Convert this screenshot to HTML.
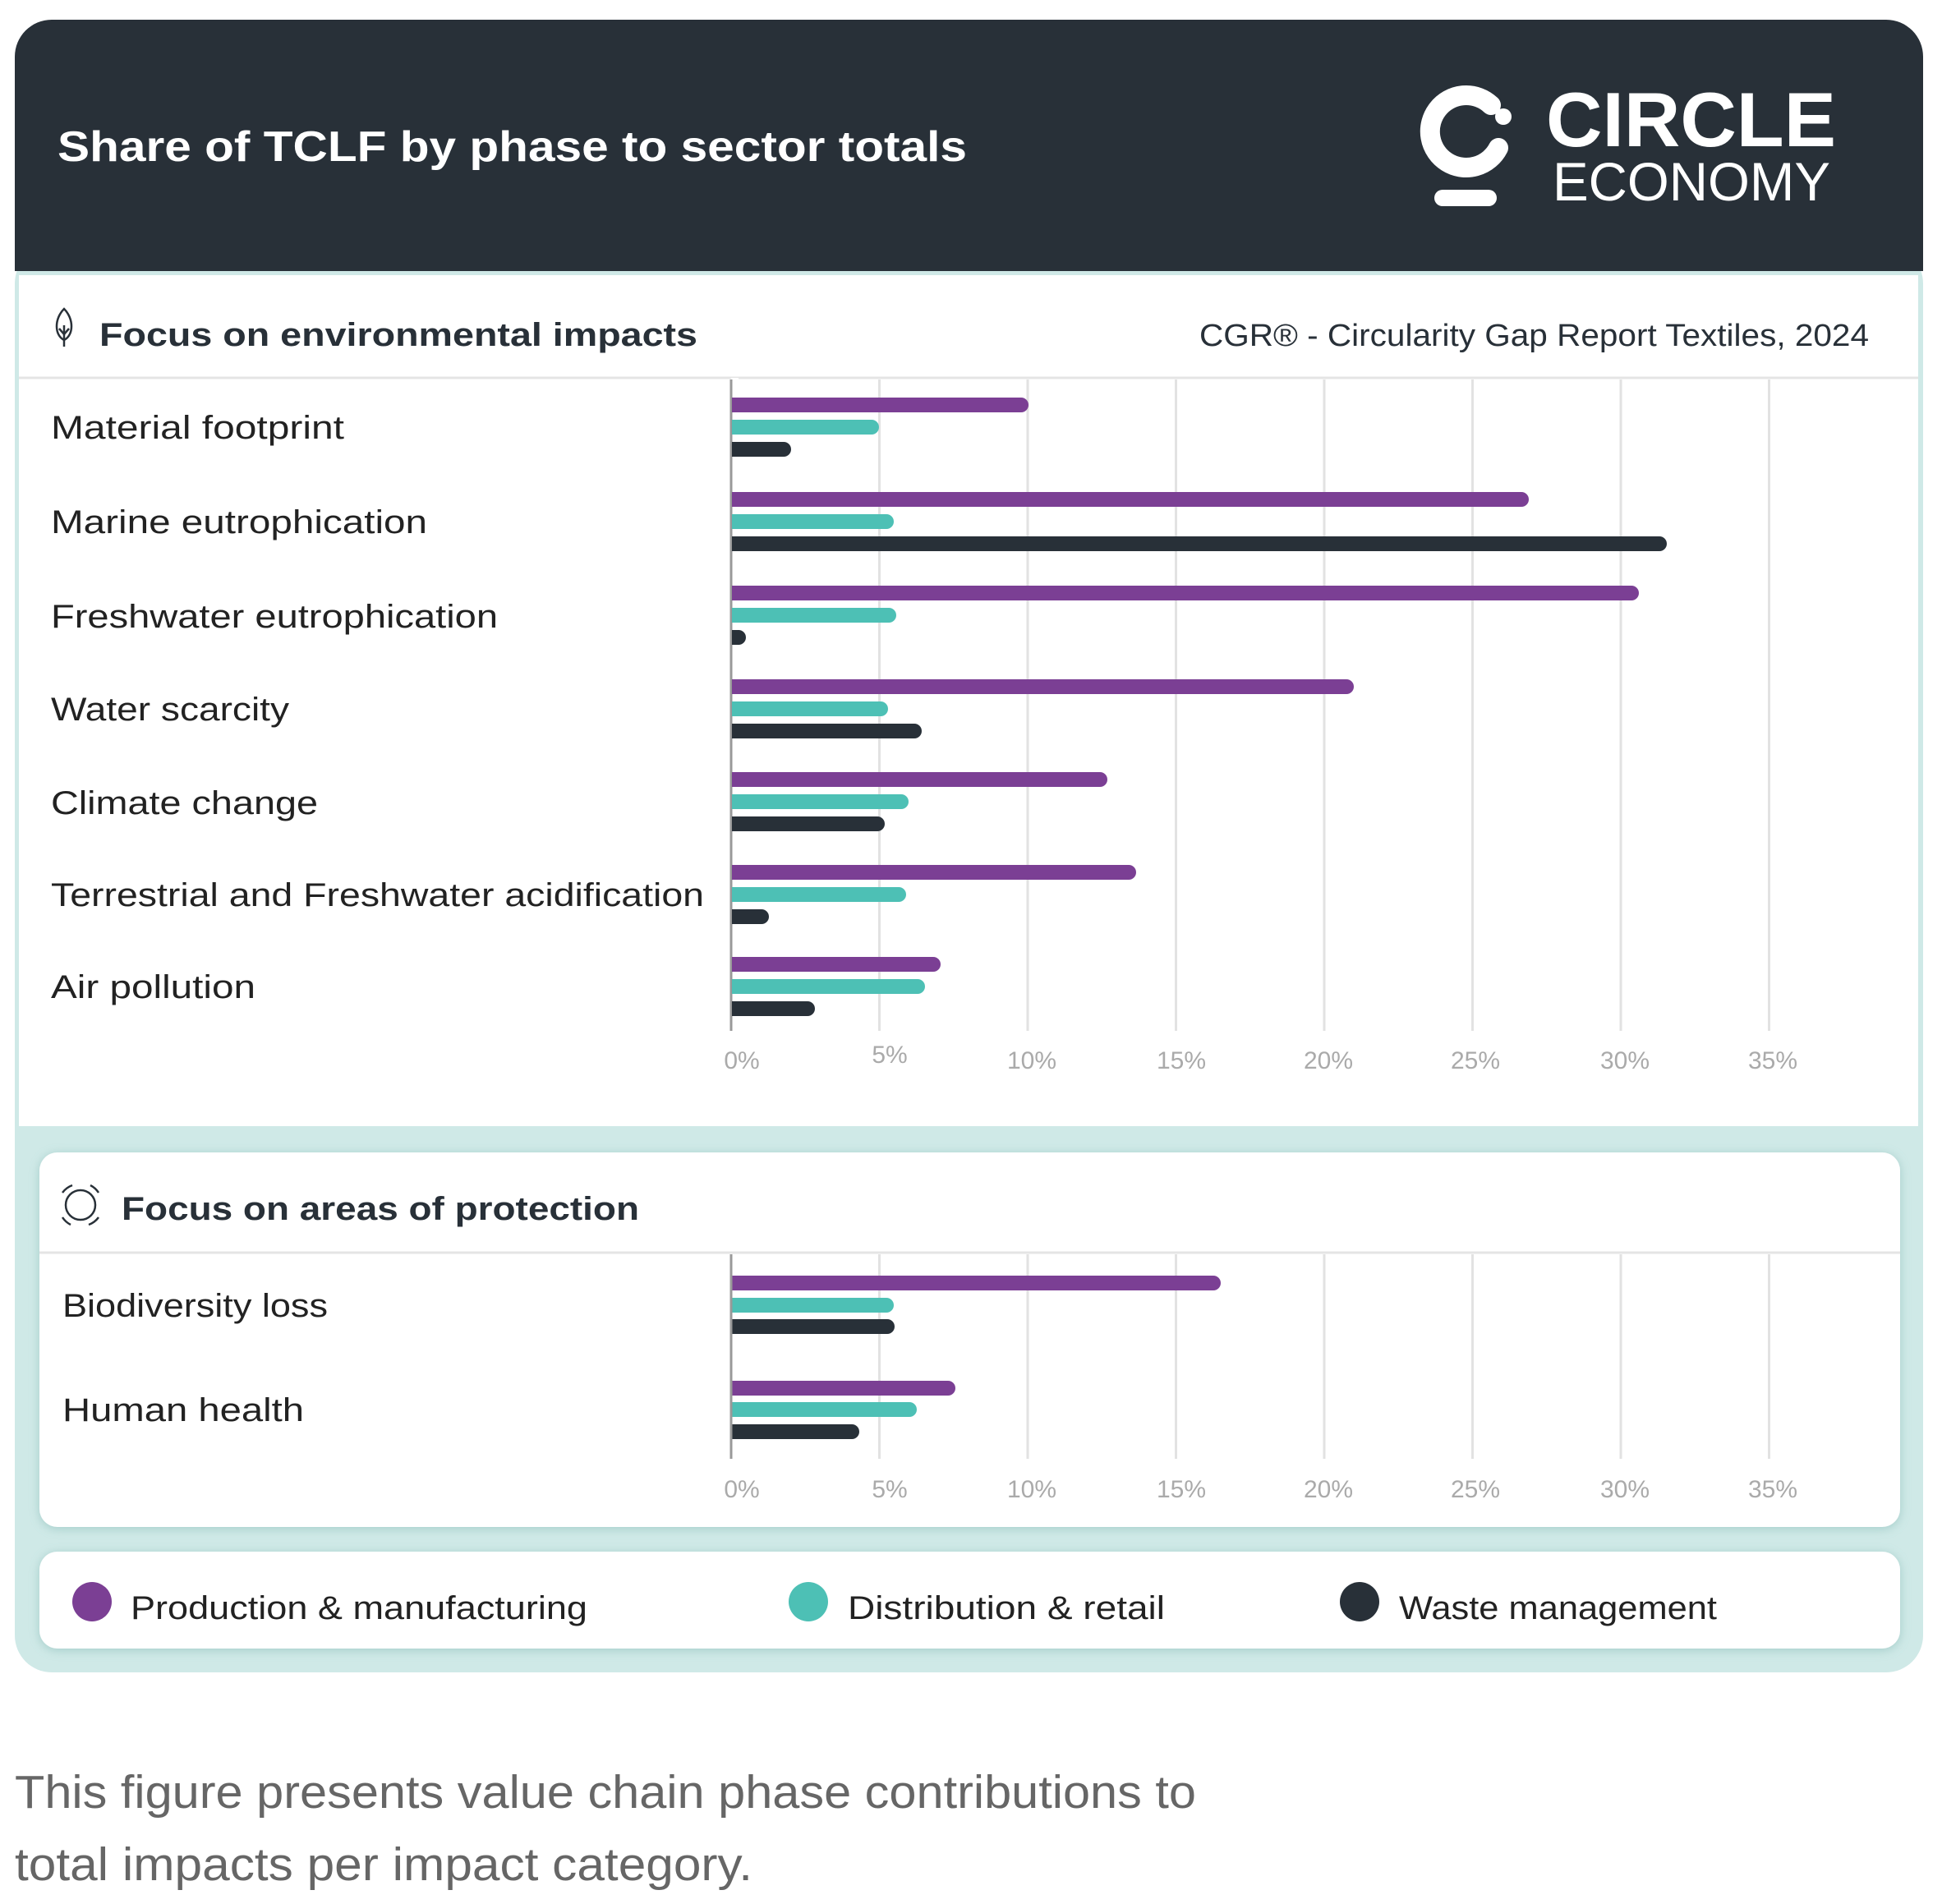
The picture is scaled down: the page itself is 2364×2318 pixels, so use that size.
<!DOCTYPE html>
<html><head><meta charset="utf-8"><style>
html,body{margin:0;padding:0;background:#fff;}
svg{display:block;}
text{font-family:"Liberation Sans",sans-serif;}
</style></head><body>
<svg width="2364" height="2318" viewBox="0 0 2364 2318" xmlns="http://www.w3.org/2000/svg">
<defs>
<filter id="sh" x="-5%" y="-20%" width="110%" height="140%"><feDropShadow dx="0" dy="2" stdDeviation="6" flood-color="#6fa9a5" flood-opacity="0.45"/></filter>
</defs>
<rect x="18" y="300" width="2323" height="1736" rx="45" fill="#cfe9e7"/>
<path d="M18,330 V69 A45,45 0 0 1 63,24 H2296 A45,45 0 0 1 2341,69 V330 Z" fill="#283038"/>
<text x="70" y="196" font-size="52" font-weight="bold" fill="#fff" textLength="1107" lengthAdjust="spacingAndGlyphs">Share of TCLF by phase to sector totals</text>
<!-- logo -->
<path d="M1815,128 A44,44 0 1 0 1824,180" fill="none" stroke="#fff" stroke-width="24" stroke-linecap="round"/>
<circle cx="1830" cy="142" r="10" fill="#fff"/>
<rect x="1746" y="231" width="76" height="20" rx="10" fill="#fff"/>
<text x="1882" y="178" font-size="94" font-weight="bold" fill="#fff" textLength="353" lengthAdjust="spacingAndGlyphs">CIRCLE</text>
<text x="1890" y="244" font-size="66" fill="#fff" textLength="338" lengthAdjust="spacingAndGlyphs">ECONOMY</text>

<rect x="23" y="335" width="2312" height="1036" fill="#fff"/>
<line x1="23" y1="460" x2="2335" y2="460" stroke="#e4e4e4" stroke-width="3"/>
<g fill="none" stroke="#283038" stroke-width="2.5">
<path d="M78,376 C66,388 66,408 78,414 C90,408 90,388 78,376 Z"/>
<line x1="78" y1="396" x2="78" y2="422"/>
<path d="M72,400 L78,407 L84,400"/>
</g>
<text x="121" y="421" font-size="40" font-weight="bold" fill="#283038" textLength="728" lengthAdjust="spacingAndGlyphs">Focus on environmental impacts</text>
<text x="1460" y="421" font-size="38" fill="#283038" textLength="815" lengthAdjust="spacingAndGlyphs">CGR® - Circularity Gap Report Textiles, 2024</text>

<g stroke="#e2e2e2" stroke-width="3">
<line x1="1070.5" y1="462" x2="1070.5" y2="1255"/><line x1="1251" y1="462" x2="1251" y2="1255"/>
<line x1="1431.5" y1="462" x2="1431.5" y2="1255"/><line x1="1612" y1="462" x2="1612" y2="1255"/>
<line x1="1792.5" y1="462" x2="1792.5" y2="1255"/><line x1="1973" y1="462" x2="1973" y2="1255"/>
<line x1="2153.5" y1="462" x2="2153.5" y2="1255"/>
</g>
<line x1="890" y1="462" x2="890" y2="1255" stroke="#999" stroke-width="3"/>
<g font-size="30" fill="#aaa" text-anchor="middle">
<text x="903" y="1301">0%</text><text x="1083" y="1294">5%</text><text x="1256" y="1301">10%</text>
<text x="1438" y="1301">15%</text><text x="1617" y="1301">20%</text><text x="1796" y="1301">25%</text>
<text x="1978" y="1301">30%</text><text x="2158" y="1301">35%</text>
</g>
<g font-size="40" fill="#222">
<text x="62" y="534" textLength="357" lengthAdjust="spacingAndGlyphs">Material footprint</text>
<text x="62" y="649" textLength="458" lengthAdjust="spacingAndGlyphs">Marine eutrophication</text>
<text x="62" y="764" textLength="544" lengthAdjust="spacingAndGlyphs">Freshwater eutrophication</text>
<text x="62" y="877" textLength="290" lengthAdjust="spacingAndGlyphs">Water scarcity</text>
<text x="62" y="991" textLength="325" lengthAdjust="spacingAndGlyphs">Climate change</text>
<text x="62" y="1103" textLength="795" lengthAdjust="spacingAndGlyphs">Terrestrial and Freshwater acidification</text>
<text x="62" y="1215" textLength="249" lengthAdjust="spacingAndGlyphs">Air pollution</text>
</g>
<g stroke-width="18" stroke-linecap="round">
<g stroke="#7b3f94">
<line x1="899" y1="493" x2="1243" y2="493"/>
<line x1="899" y1="608" x2="1852" y2="608"/>
<line x1="899" y1="722" x2="1986" y2="722"/>
<line x1="899" y1="836" x2="1639" y2="836"/>
<line x1="899" y1="949" x2="1339" y2="949"/>
<line x1="899" y1="1062" x2="1374" y2="1062"/>
<line x1="899" y1="1174" x2="1136" y2="1174"/>
</g>
<g stroke="#4dc0b5">
<line x1="899" y1="520" x2="1061" y2="520"/>
<line x1="899" y1="635" x2="1079" y2="635"/>
<line x1="899" y1="749" x2="1082" y2="749"/>
<line x1="899" y1="863" x2="1072" y2="863"/>
<line x1="899" y1="976" x2="1097" y2="976"/>
<line x1="899" y1="1089" x2="1094" y2="1089"/>
<line x1="899" y1="1201" x2="1117" y2="1201"/>
</g>
<g stroke="#283038">
<line x1="899" y1="547" x2="954" y2="547"/>
<line x1="899" y1="662" x2="2020" y2="662"/>
<line x1="899" y1="776" x2="899" y2="776"/>
<line x1="899" y1="890" x2="1113" y2="890"/>
<line x1="899" y1="1003" x2="1068" y2="1003"/>
<line x1="899" y1="1116" x2="927" y2="1116"/>
<line x1="899" y1="1228" x2="983" y2="1228"/>
</g>
</g>
<rect x="890" y="460" width="9" height="790" fill="#fff"/>
<line x1="890" y1="462" x2="890" y2="1255" stroke="#999" stroke-width="3"/>
<g stroke-width="18" stroke-linecap="butt">
<g stroke="#7b3f94"><line x1="891" y1="493" x2="900" y2="493"/><line x1="891" y1="608" x2="900" y2="608"/><line x1="891" y1="722" x2="900" y2="722"/><line x1="891" y1="836" x2="900" y2="836"/><line x1="891" y1="949" x2="900" y2="949"/><line x1="891" y1="1062" x2="900" y2="1062"/><line x1="891" y1="1174" x2="900" y2="1174"/></g>
<g stroke="#4dc0b5"><line x1="891" y1="520" x2="900" y2="520"/><line x1="891" y1="635" x2="900" y2="635"/><line x1="891" y1="749" x2="900" y2="749"/><line x1="891" y1="863" x2="900" y2="863"/><line x1="891" y1="976" x2="900" y2="976"/><line x1="891" y1="1089" x2="900" y2="1089"/><line x1="891" y1="1201" x2="900" y2="1201"/></g>
<g stroke="#283038"><line x1="891" y1="547" x2="900" y2="547"/><line x1="891" y1="662" x2="900" y2="662"/><line x1="891" y1="776" x2="900" y2="776"/><line x1="891" y1="890" x2="900" y2="890"/><line x1="891" y1="1003" x2="900" y2="1003"/><line x1="891" y1="1116" x2="900" y2="1116"/><line x1="891" y1="1228" x2="900" y2="1228"/></g>
</g>

<rect x="48" y="1403" width="2265" height="456" rx="22" fill="#fff" filter="url(#sh)"/>
<line x1="48" y1="1525" x2="2313" y2="1525" stroke="#e4e4e4" stroke-width="3"/>
<g fill="none" stroke="#283038" stroke-width="2.5">
<circle cx="98" cy="1467" r="18"/>
<path d="M76,1452 A26,26 0 0 1 88,1443 M120,1482 A26,26 0 0 1 108,1491 M76,1482 A26,26 0 0 0 86,1491 M120,1452 A26,26 0 0 0 110,1443"/>
</g>
<text x="148" y="1485" font-size="40" font-weight="bold" fill="#283038" textLength="630" lengthAdjust="spacingAndGlyphs">Focus on areas of protection</text>
<g stroke="#e2e2e2" stroke-width="3">
<line x1="1070.5" y1="1527" x2="1070.5" y2="1776"/><line x1="1251" y1="1527" x2="1251" y2="1776"/>
<line x1="1431.5" y1="1527" x2="1431.5" y2="1776"/><line x1="1612" y1="1527" x2="1612" y2="1776"/>
<line x1="1792.5" y1="1527" x2="1792.5" y2="1776"/><line x1="1973" y1="1527" x2="1973" y2="1776"/>
<line x1="2153.5" y1="1527" x2="2153.5" y2="1776"/>
</g>
<g font-size="30" fill="#aaa" text-anchor="middle">
<text x="903" y="1823">0%</text><text x="1083" y="1823">5%</text><text x="1256" y="1823">10%</text>
<text x="1438" y="1823">15%</text><text x="1617" y="1823">20%</text><text x="1796" y="1823">25%</text>
<text x="1978" y="1823">30%</text><text x="2158" y="1823">35%</text>
</g>
<g font-size="40" fill="#222">
<text x="76" y="1603" textLength="323" lengthAdjust="spacingAndGlyphs">Biodiversity loss</text>
<text x="76" y="1730" textLength="294" lengthAdjust="spacingAndGlyphs">Human health</text>
</g>
<g stroke-width="18" stroke-linecap="round">
<line x1="899" y1="1562" x2="1477" y2="1562" stroke="#7b3f94"/>
<line x1="899" y1="1589" x2="1079" y2="1589" stroke="#4dc0b5"/>
<line x1="899" y1="1615" x2="1080" y2="1615" stroke="#283038"/>
<line x1="899" y1="1690" x2="1154" y2="1690" stroke="#7b3f94"/>
<line x1="899" y1="1716" x2="1107" y2="1716" stroke="#4dc0b5"/>
<line x1="899" y1="1743" x2="1037" y2="1743" stroke="#283038"/>
</g>
<rect x="888" y="1527" width="11" height="240" fill="#fff"/>
<g stroke-width="18">
<line x1="891" y1="1562" x2="900" y2="1562" stroke="#7b3f94"/>
<line x1="891" y1="1589" x2="900" y2="1589" stroke="#4dc0b5"/>
<line x1="891" y1="1615" x2="900" y2="1615" stroke="#283038"/>
<line x1="891" y1="1690" x2="900" y2="1690" stroke="#7b3f94"/>
<line x1="891" y1="1716" x2="900" y2="1716" stroke="#4dc0b5"/>
<line x1="891" y1="1743" x2="900" y2="1743" stroke="#283038"/>
</g>
<line x1="890" y1="1527" x2="890" y2="1776" stroke="#999" stroke-width="3"/>

<rect x="48" y="1889" width="2265" height="118" rx="22" fill="#fff" filter="url(#sh)"/>
<circle cx="112" cy="1950" r="24" fill="#7b3f94"/>
<circle cx="984" cy="1950" r="24" fill="#4dc0b5"/>
<circle cx="1655" cy="1950" r="24" fill="#283038"/>
<g font-size="40" fill="#222">
<text x="159" y="1971" textLength="556" lengthAdjust="spacingAndGlyphs">Production &amp; manufacturing</text>
<text x="1032" y="1971" textLength="386" lengthAdjust="spacingAndGlyphs">Distribution &amp; retail</text>
<text x="1703" y="1971" textLength="387" lengthAdjust="spacingAndGlyphs">Waste management</text>
</g>

<g font-size="57" fill="#666">
<text x="18" y="2201" textLength="1438" lengthAdjust="spacingAndGlyphs">This figure presents value chain phase contributions to</text>
<text x="18" y="2289" textLength="898" lengthAdjust="spacingAndGlyphs">total impacts per impact category.</text>
</g>
</svg>
</body></html>
